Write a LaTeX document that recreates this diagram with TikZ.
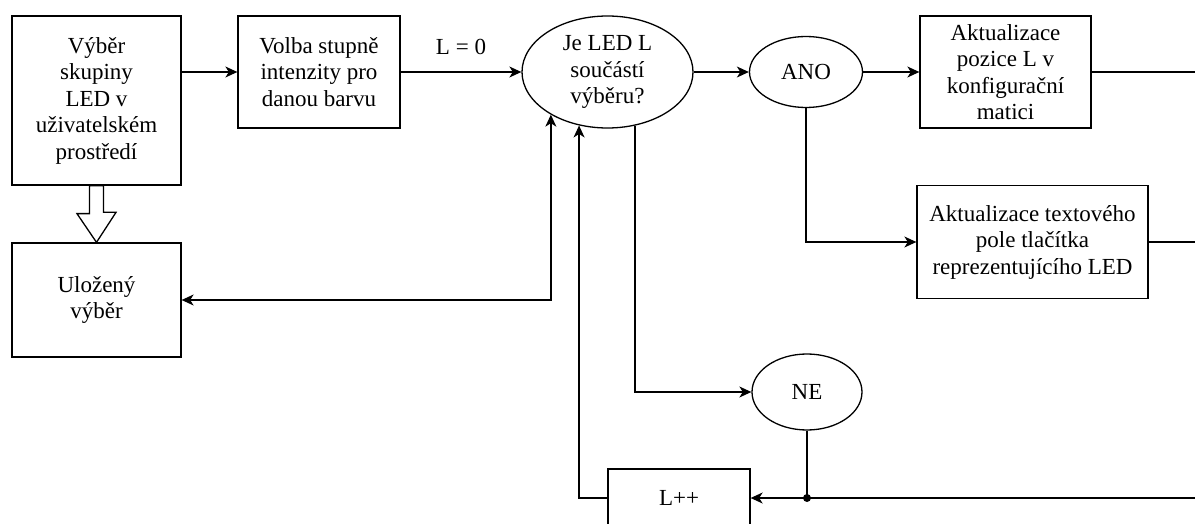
\documentclass[tikz,border=0pt]{standalone}
\usepackage{fontspec}
\setmainfont{Liberation Serif}
\usetikzlibrary{arrows.meta, shapes.geometric}

\begin{document}
\begin{tikzpicture}[x=1pt, y=-1pt, line width=1.3pt,
  >={Stealth[length=12pt, width=11pt, inset=3.5pt]},
  every node/.style={font=\fontsize{23}{26.5}\selectfont, align=center},
  blok/.style={draw, rectangle, inner sep=2pt},
  dotaz/.style={draw, ellipse, inner sep=0pt}]

  \useasboundingbox (0,0) rectangle (1195,524);

  % levy sloupec
  \node[blok, minimum width=169, minimum height=169] (vyber) at (96.5,100.5)
    {Výběr\\skupiny\\LED v\\uživatelském\\prostředí};
  \node[blok, minimum width=169, minimum height=114] (ulozeny) at (96.5,300)
    {Uložený\\výběr};

  % horni rada
  \node[blok, minimum width=162, minimum height=112] (volba) at (319,72)
    {Volba stupně\\intenzity pro\\danou barvu};
  \node[dotaz, minimum width=171, minimum height=112] (jeled) at (607.5,72)
    {Je LED L\\součástí\\výběru?};
  \node[dotaz, minimum width=113, minimum height=71] (ano) at (806,72) {ANO};
  \node[blok, minimum width=171, minimum height=112] (pozice) at (1005.5,72)
    {Aktualizace\\pozice L v\\konfigurační\\matici};
  \node[blok, minimum width=231, minimum height=113] (tlacitko) at (1032.5,242)
    {Aktualizace textového\\pole tlačítka\\reprezentujícího LED};

  % spodni cast
  \node[dotaz, minimum width=110, minimum height=76] (ne) at (807,392) {NE};
  \node[blok, minimum width=142, minimum height=58] (inkrement) at (679,498) {L++};

  \coordinate (okraj1) at (1195,72);
  \coordinate (okraj2) at (1195,242);
  \coordinate (okraj3) at (1195,498);
  \coordinate (uzel) at (ne.south |- inkrement.east);

  \draw[->] (vyber.east |- volba.west) -- (volba.west);
  \draw[->] (volba.east) -- node[above=13pt] {L = 0} (jeled.west);
  \draw[->] (jeled.east) -- (ano.west);
  \draw[->] (ano.east) -- (pozice.west);
  \draw (pozice.east) -- (okraj1);
  \draw[->] (ano.south) |- (tlacitko.west);
  \draw (tlacitko.east) -- (okraj2);

  \draw[<->] (ulozeny.east) -| (jeled.217);
  \draw[->] (jeled.297) |- (ne.west);
  \draw[->] (inkrement.west) -| (jeled.242);
  \draw (ne.south) -- (uzel);
  \draw[->] (okraj3) -- (inkrement.east);
  \fill (uzel) circle (4);

  % duty sipka
  \draw[fill=white, line join=miter] ([xshift=-7pt]vyber.south) -- ++(0,28) -- ++(-12.5,0)
    -- (ulozeny.north) -- ++(19.5,-30) -- ++(-12.5,0) -- ([xshift=7pt]vyber.south) -- cycle;
\end{tikzpicture}
\end{document}
